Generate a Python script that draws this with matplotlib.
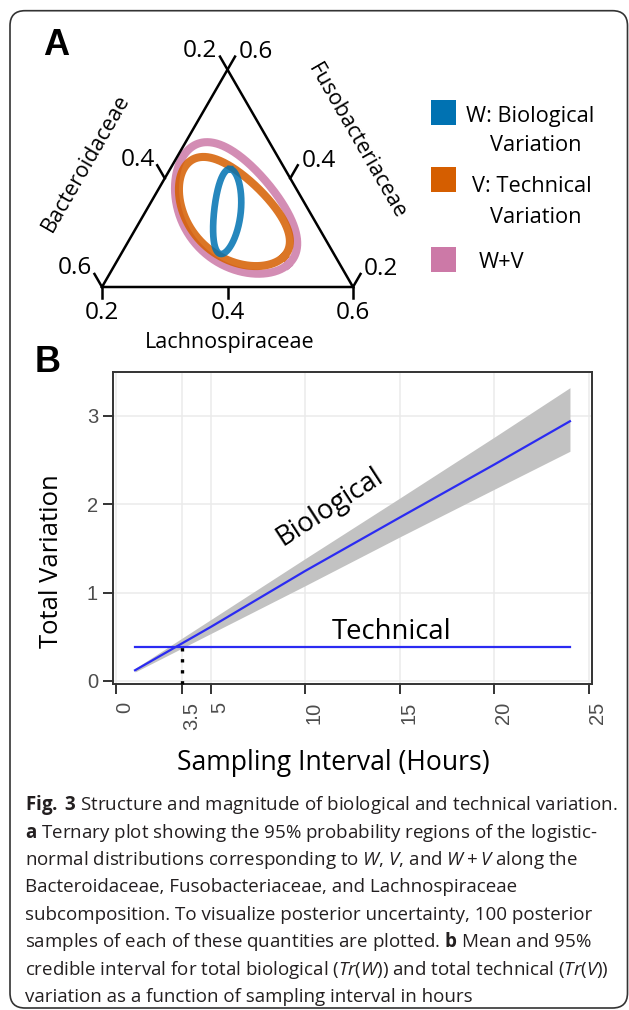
import numpy as np
import matplotlib
matplotlib.use("Agg")
import matplotlib.pyplot as plt
from matplotlib.patches import Rectangle, FancyBboxPatch
from matplotlib.transforms import ScaledTranslation, IdentityTransform

# ---------------- data ----------------
# Panel A: 95% probability regions on the Bacteroidaceae/Fusobacteriaceae/Lachnospiraceae subcomposition
region_labels = ["W+V", "V: Technical\nVariation", "W: Biological\nVariation"]
region_colors = ["#CC79A7", "#D55E00", "#0072B2"]
center_bacteroidaceae = [0.3170, 0.3230, 0.3325]
center_fusobacteriaceae = [0.3421, 0.3365, 0.3386]
center_lachnospiraceae = [0.3409, 0.3405, 0.3290]
major_spread = [0.3028, 0.2669, 0.170]
minor_spread = [0.1873, 0.1554, 0.053]
skew_spread = [0.0199, 0.0159, 0.004]
orientation_deg = [-50.0, -44.0, 83.7]
tern_ticks = [0.2, 0.4, 0.6]

# Panel B: total variation vs sampling interval
interval_hours = [1, 5, 10, 15, 20, 24]
bio_mean = [0.12, 0.61, 1.245, 1.85, 2.45, 2.94]
bio_upper = [0.14, 0.693, 1.385, 2.07, 2.76, 3.32]
bio_lower = [0.10, 0.535, 1.078, 1.63, 2.17, 2.60]
tech_mean = [0.385, 0.385, 0.385, 0.385, 0.385, 0.385]
crossover_hours = 3.5
crossover_value = 0.40
x_ticks = [0, 3.5, 5, 10, 15, 20, 25]
x_tick_labels = ["0", "3.5", "5", "10", "15", "20", "25"]
y_ticks = [0, 1, 2, 3]

caption_lines = [
    r"$\mathbf{Fig.\;3}$ Structure and magnitude of biological and technical variation.",
    r"$\mathbf{a}$ Ternary plot showing the 95% probability regions of the logistic-",
    r"normal distributions corresponding to $\mathit{W}$, $\mathit{V}$, and $\mathit{W} + \mathit{V}$ along the",
    "Bacteroidaceae, Fusobacteriaceae, and Lachnospiraceae",
    "subcomposition. To visualize posterior uncertainty, 100 posterior",
    r"samples of each of these quantities are plotted. $\mathbf{b}$ Mean and 95%",
    r"credible interval for total biological ($\mathit{Tr}$($\mathit{W}$)) and total technical ($\mathit{Tr}$($\mathit{V}$))",
    "variation as a function of sampling interval in hours",
]

# ---------------- setup ----------------
W, H = 629, 1010
SANS = "Open Sans"
plt.rcParams["font.family"] = [SANS, "DejaVu Sans"]
plt.rcParams["mathtext.fontset"] = "custom"
plt.rcParams["mathtext.rm"] = SANS
plt.rcParams["mathtext.it"] = SANS + ":italic"
plt.rcParams["mathtext.bf"] = SANS + ":bold"

fig = plt.figure(figsize=(W / 100, H / 100), dpi=100)
fig.patch.set_facecolor("white")


def fx(px):
    return px / W


def fy(py):
    return 1 - py / H


def fit_width(t, target_px):
    r = fig.canvas.get_renderer()
    rot = t.get_rotation()
    t.set_rotation(0)
    w = t.get_window_extent(renderer=r).width
    t.set_fontsize(t.get_fontsize() * target_px / w)
    t.set_rotation(rot)
    return t.get_fontsize()


# outer rounded border
border = FancyBboxPatch((10, H - 1008), 617.5, 997.3,
                        boxstyle="round,pad=0,rounding_size=15",
                        transform=IdentityTransform(), fill=False,
                        ec="#333333", lw=1.2)
fig.add_artist(border)

# ---------------- Panel A: ternary ----------------
ORX, ORY, UNIT = 102.0, 287.0, 251.0
L, R, T, B = 20, 420, 20, 350
ax_t = fig.add_axes([fx(L), fy(B), (R - L) / W, (B - T) / H])
ax_t.set_xlim((L - ORX) / UNIT, (R - ORX) / UNIT)
ax_t.set_ylim((ORY - B) / UNIT, (ORY - T) / UNIT)
ax_t.axis("off")

lo, hi = min(tern_ticks), max(tern_ticks)
S3 = np.sqrt(3) / 2


def tern_xy(b, f, l):
    wf = (np.asarray(f) - lo) / (hi - lo)
    wl = (np.asarray(l) - lo) / (hi - lo)
    return wl + 0.5 * wf, S3 * wf


# triangle
vb = tern_xy(hi, lo, lo)
vf = tern_xy(lo, hi, lo)
vl = tern_xy(lo, lo, hi)
tri_x = [vb[0], vl[0], vf[0], vb[0]]
tri_y = [vb[1], vl[1], vf[1], vb[1]]
ax_t.plot(tri_x, tri_y, color="black", lw=1.8, solid_joinstyle="miter", zorder=5)

# regions (band drawn as a thick outline of each 95% region)
tt = np.linspace(0, 2 * np.pi, 400)
widths = [5.8, 5.8, 4.8]
for i in range(3):
    cx, cy = tern_xy(center_bacteroidaceae[i], center_fusobacteriaceae[i], center_lachnospiraceae[i])
    th = np.deg2rad(orientation_deg[i])
    u = np.array([np.cos(th), np.sin(th)])
    v = np.array([-np.sin(th), np.cos(th)])
    along = major_spread[i] * np.cos(tt)
    across = minor_spread[i] * np.sin(tt) + skew_spread[i] * np.cos(2 * tt)
    ex = cx + along * u[0] + across * v[0]
    ey = cy + along * u[1] + across * v[1]
    ax_t.plot(ex, ey, color=region_colors[i], lw=widths[i], alpha=0.85, zorder=2 + i * 0.1)

# ticks and tick labels
tick_texts = []
for val in tern_ticks:
    # Lachnospiraceae (bottom)
    px_, py_ = tern_xy(hi + lo - val, lo, val)
    ax_t.plot([px_, px_], [py_, py_ - 0.045], color="black", lw=1.8, zorder=5)
    tick_texts.append(ax_t.text(px_, py_ - 0.1036, f"{val:.1f}", ha="center", va="center", fontsize=16))
    # Bacteroidaceae (left)
    px_, py_ = tern_xy(val, hi + lo - val, lo)
    ax_t.plot([px_, px_ - 0.5 * 0.06], [py_, py_ + S3 * 0.06], color="black", lw=1.8, zorder=5)
    tick_texts.append(ax_t.text(px_ - 0.108, py_ + 0.074, f"{val:.1f}", ha="center", va="center", fontsize=16))
    # Fusobacteriaceae (right)
    px_, py_ = tern_xy(lo, val, hi + lo - val)
    ax_t.plot([px_, px_ + 0.5 * 0.06], [py_, py_ + S3 * 0.06], color="black", lw=1.8, zorder=5)
    tick_texts.append(ax_t.text(px_ + 0.113, py_ + 0.070, f"{val:.1f}", ha="center", va="center", fontsize=16))

fs = fit_width(tick_texts[0], 34.5)
for t_ in tick_texts:
    t_.set_fontsize(fs)

# axis titles
t_l = ax_t.text(0.51, -0.2442, "Lachnospiraceae", ha="center", va="baseline", fontsize=14)
fs_title = fit_width(t_l, 170)
ax_t.text(-0.0637, 0.494, "Bacteroidaceae", ha="center", va="center", rotation=60, fontsize=fs_title)
ax_t.text(1.016, 0.578, "Fusobacteriaceae", ha="center", va="center", rotation=-60, fontsize=fs_title)

# legend (manual)
sq_centers = [112.5, 179.5, 259.5]
order = [2, 1, 0]
line_specs = [
    [(466, 121.7), (490, 151.0)],
    [(471.7, 191.7), (490, 223.3)],
    [(479, 267.7)],
]
leg_texts = []
for k, idx in enumerate(order):
    fig.add_artist(Rectangle((fx(431), fy(sq_centers[k] + 12.5)), 25 / W, 25 / H,
                             transform=fig.transFigure, color=region_colors[idx], lw=0))
    lines = region_labels[idx].split("\n")
    for (lx, ly), s in zip(line_specs[k], lines):
        leg_texts.append(fig.text(fx(lx), fy(ly), s, ha="left", va="baseline", fontsize=15))
fs_leg = fit_width(leg_texts[0], 128)
for t_ in leg_texts:
    t_.set_fontsize(fs_leg)

fig.text(fx(56), fy(45.5), "A", ha="center", va="center", fontsize=26,
         fontweight="bold", family="Liberation Sans")

# ---------------- Panel B ----------------
ax = fig.add_axes([fx(113.3), fy(683.5), (591.7 - 113.3) / W, (683.5 - 371.8) / H])
ax.set_xlim(-0.15, 25.15)
ax.set_ylim(-0.03, 3.5)
ax.set_axisbelow(True)
ax.grid(True, color="#EBEBEB", lw=1.1)

ax.fill_between(interval_hours, bio_lower, bio_upper, color="#C2C2C2", lw=0, zorder=1)
ax.plot(interval_hours, bio_mean, color="#2B2BF2", lw=1.6, zorder=2)
ax.plot(interval_hours, tech_mean, color="#2B2BF2", lw=1.6, zorder=2)
ax.plot([crossover_hours, crossover_hours], [ax.get_ylim()[0], crossover_value], color="black",
        lw=2.4, linestyle=(0, (1.0, 2.3)), zorder=3, clip_on=False)

ax.set_xticks(x_ticks)
ax.set_xticklabels(x_tick_labels, rotation=90, va="top", ha="center",
                   family="Liberation Sans", fontsize=14.5, color="#4D4D4D")
ax.set_yticks(y_ticks)
ax.set_yticklabels([str(v) for v in y_ticks], family="Liberation Sans", fontsize=14.5, color="#4D4D4D")
ax.tick_params(axis="both", length=7, width=1.4, color="#333333")
ax.tick_params(axis="x", pad=6)
ax.tick_params(axis="y", pad=4)
for lab in ax.get_xticklabels():
    lab.set_transform(lab.get_transform() + ScaledTranslation(0.09, 0, fig.dpi_scale_trans))
for sp in ax.spines.values():
    sp.set_color("#333333")
    sp.set_linewidth(1.4)

t_tech = ax.text(14.54, 0.47, "Technical", ha="center", va="baseline", fontsize=19)
fs_ann = fit_width(t_tech, 120)
ax.text(11.3, 1.97, "Biological", ha="center", va="center", rotation=33,
        rotation_mode="anchor", fontsize=fs_ann)

t_y = fig.text(fx(52), fy(561.5), "Total Variation", rotation=90, ha="center", va="center", fontsize=19)
fit_width(t_y, 173)
t_x = fig.text(fx(333.5), fy(763), "Sampling Interval (Hours)", ha="center", va="center", fontsize=18)
fit_width(t_x, 313)

fig.text(fx(48), fy(362.5), "B", ha="center", va="center", fontsize=26,
         fontweight="bold", family="Liberation Sans")

# ---------------- caption ----------------
cap_y = [805, 833, 860, 887, 915, 942, 970, 997]
cap_texts = []
for s, yc in zip(caption_lines, cap_y):
    cap_texts.append(fig.text(fx(25), fy(yc + 5), s, ha="left", va="baseline", fontsize=13, color="#231F20"))
fs_cap = fit_width(cap_texts[0], 593)
for t_ in cap_texts:
    t_.set_fontsize(fs_cap)

fig.savefig("out.png", dpi=100, facecolor="white")
